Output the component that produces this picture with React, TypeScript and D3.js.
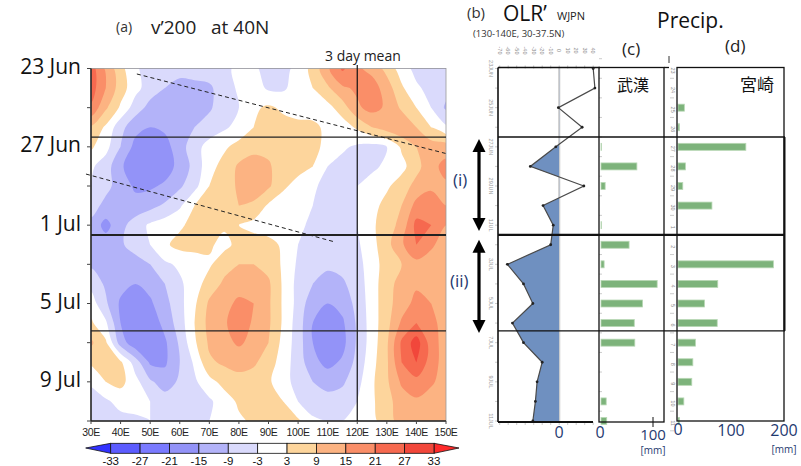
import * as d3 from "d3";

// grid of the v'200 field (3 day mean, 40N): rows = days from 23 Jun, columns = longitudes
const lons = [30, 35, 40, 45, 50, 55, 60, 65, 70, 75, 80, 85, 90, 95, 100, 105, 110, 115, 120, 125, 130, 135, 140, 145, 150];
const days = [
  "23 Jun", "24 Jun", "25 Jun", "26 Jun", "27 Jun", "28 Jun", "29 Jun", "30 Jun",
  "1 Jul", "2 Jul", "3 Jul", "4 Jul", "5 Jul", "6 Jul", "7 Jul", "8 Jul", "9 Jul", "10 Jul", "11 Jul",
];
const v200 = [
  [24, 14, 5, -2, -6, -7, -6, -6, -6, -5, -1, -2, -5, -5, -1, 5, 14, 22, 16, 13, 7, 0, -5, -5, -4],
  [24, 15, 6, -1, -6, -9, -12, -11, -10, -6, -2, 0, -4, -4, 0, 3, 8, 14, 16, 18, 12, 4, -2, -5, -7],
  [20, 10, 2, -6, -11, -13, -13, -12, -10, -5, -3, 2, 4, 2, 0, 1, 1, 6, 14, 17, 14, 8, 3, -3, -10],
  [8, 2, -7, -13, -15, -14, -12, -9, -6, -4, -1, 3, 6, 5, 5, 4, 2, 0, 4, 9, 12, 14, 9, 3, -2],
  [4, -1, -9, -17, -19, -17, -12, -5, -1, 2, 5, 7, 7, 5, 4, 4, 2, -2, -4, -5, -3, 4, 9, 12, 12],
  [-2, -6, -14, -19, -20, -18, -13, -7, 1, 5, 10, 12, 10, 5, 5, 3, -3, -5, -5, -4, -2, 1, 7, 13, 17],
  [-3, -7, -12, -16, -16, -14, -10, -5, 3, 6, 10, 12, 10, 4, 1, -2, -5, -5, -3, -1, 2, 6, 11, 14, 14],
  [-6, -11, -13, -13, -11, -8, -4, 3, 5, 7, 9, 8, 2, 0, -1, -3, -7, -5, -3, 1, 5, 9, 17, 18, 15],
  [-11, -17, -11, -6, -2, 0, 2, 5, 5, 4, 3, 1, 0, 0, -2, -4, -6, -5, -3, 2, 6, 11, 23, 21, 15],
  [-10, -12, -10, -6, -3, 2, 5, 5, 4, 1, 5, 6, 5, 2, -3, -6, -7, -6, -4, 1, 7, 14, 21, 16, 12],
  [-10, -11, -13, -12, -9, -4, -2, 0, 2, 7, 9, 9, 7, 2, -4, -7, -8, -7, -5, 0, 6, 9, 13, 12, 10],
  [-5, -10, -13, -15, -13, -9, -4, 0, 6, 10, 11, 11, 10, 2, -5, -9, -11, -10, -6, 0, 7, 11, 14, 12, 10],
  [0, -8, -16, -18, -16, -11, -5, 2, 10, 12, 17, 15, 10, 2, -5, -13, -15, -13, -7, 0, 7, 12, 17, 15, 12],
  [4, -2, -15, -20, -19, -13, -6, 3, 11, 14, 19, 14, 10, 2, -6, -15, -19, -16, -8, 0, 7, 16, 21, 17, 12],
  [10, 4, -12, -19, -20, -16, -8, 2, 10, 13, 16, 13, 9, 1, -6, -15, -20, -17, -8, 0, 8, 22, 30, 18, 12],
  [4, 9, 4, -6, -16, -16, -9, -2, 8, 10, 11, 10, 6, 0, -6, -13, -17, -14, -7, 1, 8, 21, 27, 18, 12],
  [-2, 3, 5, -1, -8, -12, -8, -4, 1, 5, 7, 6, 4, -1, -5, -9, -11, -10, -5, 2, 8, 16, 19, 16, 12],
  [-6, -4, -1, -1, -3, -6, -6, -5, -4, 0, 4, 5, 5, 3, -3, -6, -7, -6, -3, 2, 7, 12, 14, 12, 10],
  [-6, -5, -5, -4, -3, -5, -5, -4, -3, 0, 2, 4, 5, 5, 4, -2, -3, -3, -2, 1, 7, 11, 15, 12, 9],
];

const thresholds = [-33, -27, -21, -15, -9, -3, 3, 9, 15, 21, 27, 33];
const bandColors = [
  "#3232ff", "#5c5cff", "#7a7aff", "#9393f8", "#b3b3f9", "#dadafc", "#ffffff",
  "#fdd59c", "#fcb382", "#fa8e68", "#f6694f", "#f1473b", "#ff2a2a",
];

// OLR' WJPN (W/m2) and daily precipitation (mm), one value per day
const olrWjpn = [40, 42, -1, 27, -4, -34, 29, -19, -7, -10, -61, -42, -31, -55, -42, -20, -26, -28, -31];
const precipWuhan = [0, 0, 0, 0, 1, 69, 8, 0, 1, 54, 6, 108, 80, 64, 65, 0, 0, 10, 11];
const precipMiyazaki = [0, 0, 12, 3, 128, 14, 9, 64, 0, 0, 180, 75, 50, 74, 33, 28, 26, 11, 3];

const dateTicks = [
  { label: "23 Jun", day: 0 },
  { label: "27 Jun", day: 4 },
  { label: "1 Jul", day: 8 },
  { label: "5 Jul", day: 12 },
  { label: "9 Jul", day: 16 },
];
const lonTicks = [30, 40, 50, 60, 70, 80, 90, 100, 110, 120, 130, 140, 150];
const olrTicks = [-70, -60, -50, -40, -30, -20, -10, 0, 10, 20, 30, 40];
const olrDateTicks = ["23JUN", "25JUN", "27JUN", "29JUN", "1JUL", "3JUL", "5JUL", "7JUL", "9JUL", "11JUL"];
const dayNumbers = ["23", "24", "25", "26", "27", "28", "29", "30", "1", "2", "3", "4", "5", "6", "7", "8", "9", "10", "11"];

// period boundaries (day index) and phase lines [lon, day]
const periodLines = [3.5, 8.5, 13.4];
const periods = [
  { label: "(i)", from: 3.6, to: 8.3 },
  { label: "(ii)", from: 8.75, to: 13.5 },
];
const phaseLines = [
  [[45.5, 0.28], [150.7, 4.37]],
  [[28.3, 5.39], [112.5, 8.86]],
];

const sans = "'Open Sans', 'Noto Sans', sans-serif";
const navy = "#1f3a70";

export default function App() {
  const mapX = d3.scaleLinear().domain([30, 150]).range([91, 446]);
  const timeY = d3.scaleLinear().domain([0, 18]).range([68.5, 421]);
  const olrX = d3.scaleLinear().domain([-72, 48]).range([498, 600]);
  const wuhanX = d3.scaleLinear().domain([0, 100]).range([601, 653]);
  const miyaX = d3.scaleLinear().domain([0, 200]).range([678, 784]);
  const cbX = d3.scaleLinear().domain([-33, 33]).range([110.7, 434]);

  // filled contours
  const nx = lons.length;
  const ny = v200.length;
  const dLon = lons[1] - lons[0];
  const gx = (c: number) => mapX(lons[0] + (c - 0.5) * dLon);
  const gy = (c: number) => timeY(c - 0.5);
  const ring = d3
    .line<number[]>()
    .x((p) => gx(p[0]))
    .y((p) => gy(p[1]))
    .curve(d3.curveCatmullRomClosed.alpha(0.5));
  const bands = d3.contours().size([nx, ny]).thresholds(thresholds)(v200.flat());
  const bandPath = (g: any) =>
    g.coordinates.map((poly: any) => poly.map((r: any) => ring(r.slice(0, -1))).join("")).join("");

  const mapTop = timeY(0);
  const mapBot = timeY(18);

  // OLR
  const olrLine = d3
    .line<number>()
    .x((v) => olrX(v))
    .y((_, i) => timeY(i));
  const olrArea = d3
    .area<number>()
    .x0(olrX(0))
    .x1((v) => olrX(v))
    .y((_, i) => timeY(i));

  const barH = 7;

  return (
    <svg
      width={801}
      height={466}
      style={{ position: "absolute", left: 0, top: 0, display: "block", background: "#fff" }}
    >
      <defs>
        <clipPath id="mapClip">
          <rect x={mapX(30)} y={mapTop} width={mapX(150) - mapX(30)} height={mapBot - mapTop} />
        </clipPath>
        <clipPath id="olrNeg">
          <rect x={olrX(-72)} y={mapTop} width={olrX(0) - olrX(-72)} height={mapBot - mapTop} />
        </clipPath>
      </defs>

      {/* ---------- (a) v'200 Hovmoller ---------- */}
      <text x={116} y={32} fontFamily={sans} fontSize={14} fill="#333">(a)</text>
      <text x={151} y={34} fontFamily={sans} fontSize={19} fill="#222">v’200</text>
      <text x={211} y={34} fontFamily={sans} fontSize={19} fill="#222">at 40N</text>
      <text x={325} y={61} fontFamily={sans} fontSize={14} fill="#222">3 day mean</text>

      <g clipPath="url(#mapClip)">
        <rect x={mapX(30)} y={mapTop} width={mapX(150) - mapX(30)} height={mapBot - mapTop} fill={bandColors[0]} />
        {bands.map((b, i) => (
          <path key={i} d={bandPath(b)} fill={bandColors[i + 1]} fillRule="evenodd" />
        ))}
        {phaseLines.map((pl, i) => (
          <line
            key={i}
            x1={mapX(pl[0][0])}
            y1={timeY(pl[0][1])}
            x2={mapX(pl[1][0])}
            y2={timeY(pl[1][1])}
            stroke="#222"
            strokeWidth={1}
            strokeDasharray="4,3"
          />
        ))}
      </g>
      {/* overhang of the lower phase line */}
      <line
        x1={mapX(phaseLines[1][0][0])}
        y1={timeY(phaseLines[1][0][1])}
        x2={mapX(30)}
        y2={timeY(phaseLines[1][0][1]) + (mapX(30) - mapX(phaseLines[1][0][0])) * 0.273}
        stroke="#222"
        strokeWidth={1}
        strokeDasharray="4,3"
      />

      <rect x={mapX(30)} y={mapTop} width={mapX(150) - mapX(30)} height={mapBot - mapTop} fill="none" stroke="#999" strokeWidth={0.8} />
      <line x1={mapX(30)} x2={mapX(30)} y1={mapTop} y2={mapBot} stroke="#222" strokeWidth={1.5} />
      <line x1={mapX(30)} x2={mapX(150)} y1={mapBot} y2={mapBot} stroke="#222" strokeWidth={1.5} />
      <line x1={mapX(120)} x2={mapX(120)} y1={65} y2={mapBot} stroke="#111" strokeWidth={1.2} />
      {periodLines.map((d, i) => (
        <line key={i} x1={mapX(30)} x2={mapX(150)} y1={timeY(d)} y2={timeY(d)} stroke="#222" strokeWidth={i === 1 ? 2 : 1.2} />
      ))}

      {d3.range(0, 19, 2).map((d) => (
        <line key={d} x1={mapX(30) - 4} x2={mapX(30)} y1={timeY(d)} y2={timeY(d)} stroke="#444" strokeWidth={1} />
      ))}
      {dateTicks.map((t) => (
        <text key={t.label} x={81} y={Math.max(timeY(t.day) + 5.5, 73)} textAnchor="end" fontFamily={sans} fontSize={21} fill="#111">
          {t.label}
        </text>
      ))}
      {lonTicks.map((l) => (
        <g key={l}>
          <line x1={mapX(l)} x2={mapX(l)} y1={mapBot} y2={mapBot + 3} stroke="#444" />
          <text x={mapX(l)} y={436} textAnchor="middle" fontFamily="'Liberation Sans', sans-serif" fontSize={10.5} letterSpacing={-0.4} fill="#222">
            {l}E
          </text>
        </g>
      ))}

      {/* colour bar */}
      <polygon points={`${cbX(-33) - 25},448 ${cbX(-33)},443.3 ${cbX(-33)},453.3`} fill={bandColors[0]} stroke="#111" strokeWidth={0.8} />
      <polygon points={`${cbX(33) + 25},448 ${cbX(33)},443.3 ${cbX(33)},453.3`} fill={bandColors[12]} stroke="#111" strokeWidth={0.8} />
      {thresholds.slice(0, -1).map((t, i) => (
        <rect key={t} x={cbX(t)} y={443.3} width={cbX(thresholds[i + 1]) - cbX(t)} height={10} fill={bandColors[i + 1]} stroke="#111" strokeWidth={0.8} />
      ))}
      {thresholds.map((t) => (
        <text key={t} x={cbX(t)} y={465} textAnchor="middle" fontFamily="'Liberation Sans', sans-serif" fontSize={11.5} fill="#111">
          {t}
        </text>
      ))}

      {/* period arrows */}
      {periods.map((p) => {
        const ax = 479;
        const y0 = timeY(p.from);
        const y1 = timeY(p.to);
        return (
          <g key={p.label}>
            <line x1={ax} x2={ax} y1={y0 + 10} y2={y1 - 10} stroke="#000" strokeWidth={3.2} />
            <polygon points={`${ax},${y0} ${ax - 6.5},${y0 + 13} ${ax + 6.5},${y0 + 13}`} fill="#000" />
            <polygon points={`${ax},${y1} ${ax - 6.5},${y1 - 13} ${ax + 6.5},${y1 - 13}`} fill="#000" />
            <text x={p.label === "(i)" ? 453 : 450} y={(timeY(p.from) + timeY(p.to)) / 2 + 1} fontFamily={sans} fontSize={17} fill={navy}>
              {p.label}
            </text>
          </g>
        );
      })}

      {/* ---------- (b) OLR' ---------- */}
      <text x={467} y={18} fontFamily={sans} fontSize={15} fill="#333">(b)</text>
      <text x={503} y={21} fontFamily={sans} fontSize={21} fill="#111">OLR’</text>
      <text x={557} y={20} fontFamily={sans} fontSize={11} fill="#222">WJPN</text>
      <text x={473} y={37} fontFamily={sans} fontSize={9.5} fill="#333">(130-140E, 30-37.5N)</text>

      <line x1={olrX(0)} x2={olrX(0)} y1={mapTop - 1} y2={mapBot + 1} stroke="#cfcfcf" strokeWidth={2.2} />
      <path d={olrArea(olrWjpn) ?? ""} fill="#6f90c0" clipPath="url(#olrNeg)" />
      <path d={olrLine(olrWjpn) ?? ""} fill="none" stroke="#4a4a4a" strokeWidth={1.2} />
      {olrWjpn.map((v, i) => (
        <circle key={i} cx={olrX(v)} cy={timeY(i)} r={1.4} fill="#222" />
      ))}
      {olrTicks.map((t) => (
        <g key={t}>
          <line x1={olrX(t)} x2={olrX(t)} y1={mapTop - 3} y2={mapTop} stroke="#999" strokeWidth={0.6} />
          <line x1={olrX(t)} x2={olrX(t)} y1={mapBot + 1} y2={mapBot + 4} stroke="#aaa" strokeWidth={0.6} />
          <text transform={`translate(${olrX(t) - 2},${mapTop - 18}) rotate(90)`} fontFamily="'Liberation Sans', sans-serif" fontSize={5.5} fill="#888" textAnchor="middle">
            {t}
          </text>
        </g>
      ))}
      {olrDateTicks.map((l, i) => (
        <text key={l} transform={`translate(${489},${timeY(i * 2)}) rotate(90)`} fontFamily="'Liberation Sans', sans-serif" fontSize={5.5} fill="#999" textAnchor="middle">
          {l}
        </text>
      ))}
      {days.map((_, i) => (
        <line key={i} x1={olrX(-72) - 3} x2={olrX(-72)} y1={timeY(i)} y2={timeY(i)} stroke="#aaa" strokeWidth={0.6} />
      ))}
      <line x1={olrX(-72)} x2={olrX(-72)} y1={mapTop - 1} y2={mapBot + 1} stroke="#111" strokeWidth={1.6} />
      <line x1={olrX(-72)} x2={olrX(48)} y1={mapTop - 1} y2={mapTop - 1} stroke="#111" strokeWidth={1.4} />
      <line x1={olrX(-72)} x2={593} y1={mapBot + 1} y2={mapBot + 1} stroke="#111" strokeWidth={2} />
      <text x={olrX(0)} y={438} textAnchor="middle" fontFamily={sans} fontSize={16} fill={navy}>0</text>

      {/* ---------- (c) Wuhan ---------- */}
      <text x={657} y={28} fontFamily={sans} fontSize={21} fill="#111">Precip.</text>
      <text x={622} y={55} fontFamily={sans} fontSize={17} fill="#222">(c)</text>
      <text x={617} y={91} fontFamily="'Noto Sans CJK JP', sans-serif" fontSize={16} fill="#111">武漢</text>
      {precipWuhan.map((v, i) =>
        v > 0 ? (
          <rect key={i} x={wuhanX(0)} y={timeY(i) - barH / 2} width={wuhanX(v) - wuhanX(0)} height={barH} fill="#7db37b" stroke="#b8d8b5" strokeWidth={0.8} />
        ) : null
      )}
      {days.map((_, i) => (
        <line key={i} x1={599} x2={602} y1={timeY(i) - 9.8} y2={timeY(i) - 9.8} stroke="#aaa" strokeWidth={0.6} />
      ))}
      <rect x={599} y={mapTop - 1} width={65} height={mapBot - mapTop + 2} fill="none" stroke="#111" strokeWidth={1.3} />
      <line x1={664} x2={669} y1={mapTop - 1} y2={mapTop - 1} stroke="#111" strokeWidth={1.3} />
      <line x1={669} x2={669} y1={56} y2={63} stroke="#333" strokeWidth={1} />
      <line x1={wuhanX(100)} x2={wuhanX(100)} y1={417} y2={427} stroke="#111" strokeWidth={1} />
      <text x={wuhanX(0) - 1} y={438} textAnchor="middle" fontFamily={sans} fontSize={16} fill={navy}>0</text>
      <text x={wuhanX(100)} y={440} textAnchor="middle" fontFamily={sans} fontSize={15} fill={navy}>100</text>
      <text x={wuhanX(100)} y={454} textAnchor="middle" fontFamily={sans} fontSize={10} fill={navy}>[mm]</text>

      {/* ---------- (d) Miyazaki ---------- */}
      <text x={725} y={52} fontFamily={sans} fontSize={17} fill="#222">(d)</text>
      {dayNumbers.map((l, i) => (
        <g key={i}>
          <text transform={`translate(${671},${timeY(i) + 2}) rotate(90)`} fontFamily="'Liberation Sans', sans-serif" fontSize={5.5} fill="#888" textAnchor="middle">
            {l}
          </text>
          <line x1={670} x2={674} y1={timeY(i) + 9.8} y2={timeY(i) + 9.8} stroke="#aaa" strokeWidth={0.6} />
        </g>
      ))}
      {precipMiyazaki.map((v, i) =>
        v > 0 ? (
          <rect key={i} x={miyaX(0)} y={timeY(i) - barH / 2} width={miyaX(v) - miyaX(0)} height={barH} fill="#7db37b" stroke="#b8d8b5" strokeWidth={0.8} />
        ) : null
      )}
      <rect x={677} y={mapTop - 1} width={107} height={mapBot - mapTop + 1} fill="none" stroke="#111" strokeWidth={1.3} />
      <text x={740} y={91} fontFamily="'Noto Sans CJK JP', sans-serif" fontSize={17} fill="#111">宮崎</text>
      <text x={miyaX(0)} y={435} textAnchor="middle" fontFamily={sans} fontSize={16} fill={navy}>0</text>
      <text x={miyaX(100)} y={436} textAnchor="middle" fontFamily={sans} fontSize={16} fill={navy}>100</text>
      <text x={miyaX(200)} y={436} textAnchor="middle" fontFamily={sans} fontSize={16} fill={navy}>200</text>
      <text x={miyaX(200)} y={453} textAnchor="middle" fontFamily={sans} fontSize={10} fill={navy}>[mm]</text>

      {/* period lines across panels b-d */}
      {periodLines.map((d, i) => (
        <line key={i} x1={olrX(-72)} x2={785} y1={timeY(d)} y2={timeY(d)} stroke="#111" strokeWidth={i === 1 ? 2.2 : 1.4} />
      ))}
      <line x1={784.5} x2={784.5} y1={timeY(periodLines[0])} y2={timeY(periodLines[2])} stroke="#111" strokeWidth={2} />
    </svg>
  );
}
